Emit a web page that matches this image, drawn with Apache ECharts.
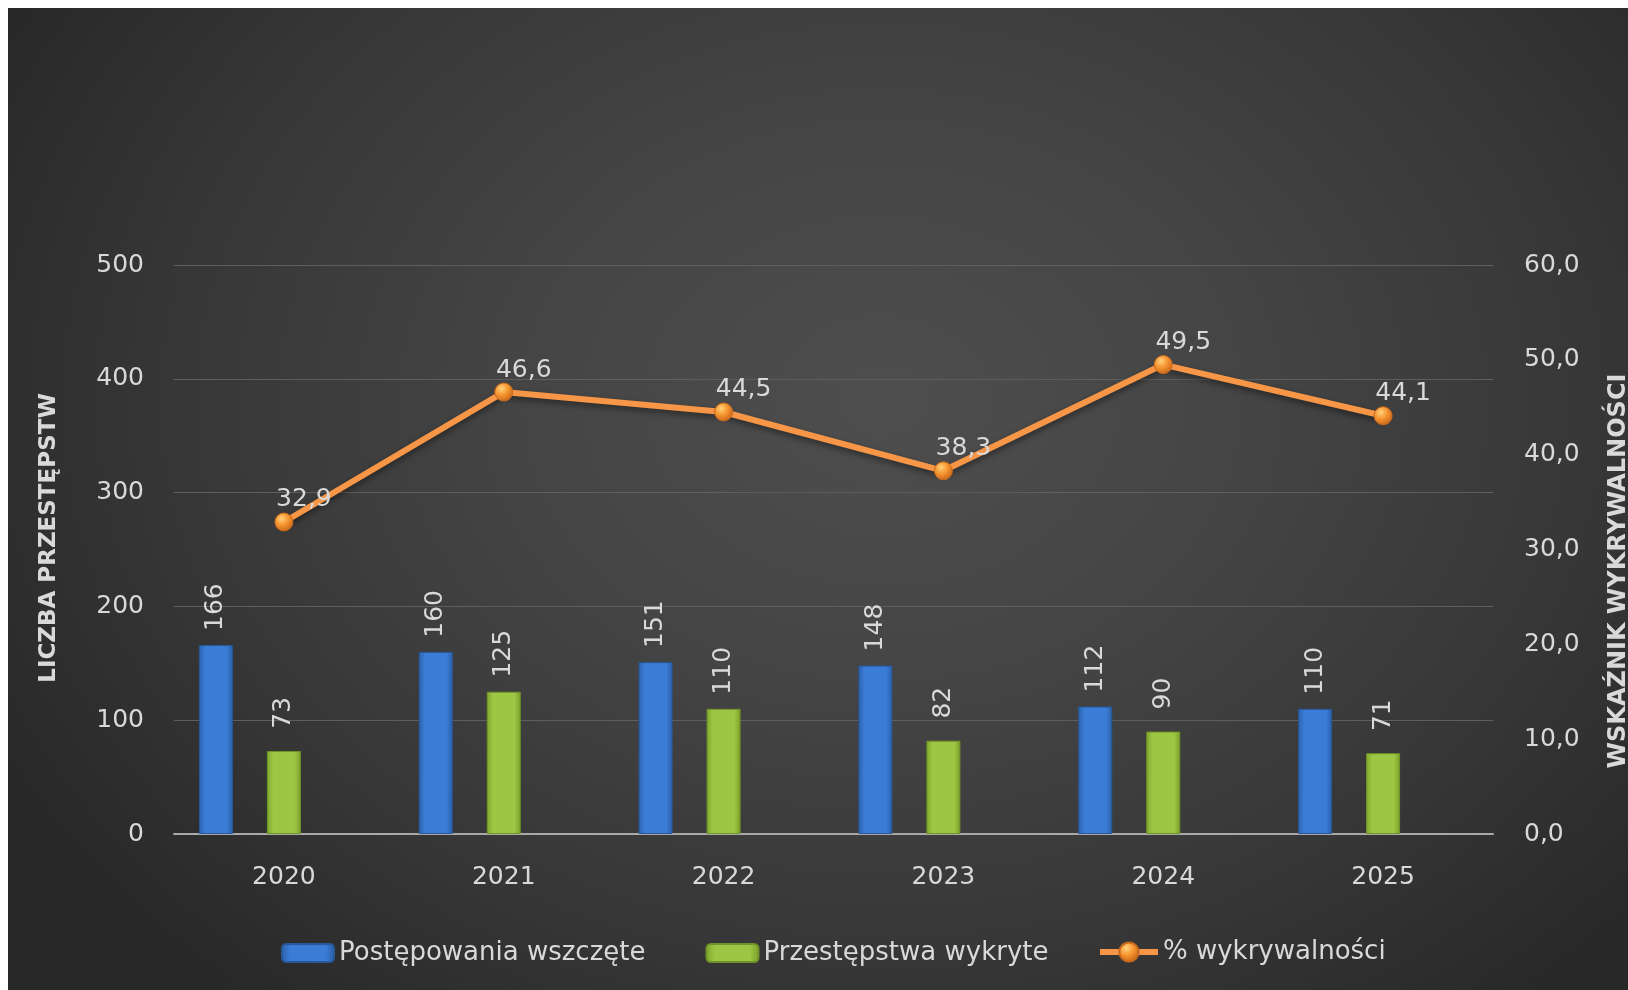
<!DOCTYPE html>
<html>
<head>
<meta charset="utf-8">
<script src="https://cdn.jsdelivr.net/npm/echarts@6/dist/echarts.min.js"></script>
<style>
  html, body { margin: 0; padding: 0; background: #ffffff; }
  #bg { position: absolute; left: 8px; top: 8px; width: 1620px; height: 982px;
        background: radial-gradient(ellipse 62% 80% at 54% 40%, #4e4e4e 0%, #454545 35%, #373737 70%, #282828 100%); }
  #chart { position: absolute; left: 0; top: 0; width: 1628px; height: 990px; }
</style>
</head>
<body>
<div id="bg"></div>
<div id="chart"></div>
<script>
const categories = ['2020', '2021', '2022', '2023', '2024', '2025'];
const initiated = [166, 160, 151, 148, 112, 110];
const detected = [73, 125, 110, 82, 90, 71];
const detectionRate = [32.9, 46.6, 44.5, 38.3, 49.5, 44.1];
const seriesNames = ['Postępowania wszczęte', 'Przestępstwa wykryte', '% wykrywalności'];
const leftTicks = { min: 0, max: 500, interval: 100 };
const rightTicks = { min: 0, max: 60, interval: 10 };
const leftTitle = 'LICZBA PRZESTĘPSTW';
const rightTitle = 'WSKAŹNIK WYKRYWALNOŚCI';

const FONT = 'DejaVu Sans';
const TXT = '#d9d9d9';
const comma1 = v => Number(v).toFixed(1).replace('.', ',');

const chart = echarts.init(document.getElementById('chart'), null, { renderer: 'canvas' });

const blue = new echarts.graphic.LinearGradient(0, 0, 1, 0, [
  { offset: 0, color: '#2c62ad' }, { offset: 0.18, color: '#3b7cd6' },
  { offset: 0.82, color: '#3b7cd6' }, { offset: 1, color: '#2a5ea6' }]);
const green = new echarts.graphic.LinearGradient(0, 0, 1, 0, [
  { offset: 0, color: '#7fa62c' }, { offset: 0.18, color: '#9dc644' },
  { offset: 0.82, color: '#9dc644' }, { offset: 1, color: '#7a9f2a' }]);
const orangeDot = new echarts.graphic.RadialGradient(0.38, 0.32, 0.7, [
  { offset: 0, color: '#ffd27a' }, { offset: 0.5, color: '#f5942f' }, { offset: 1, color: '#c9661a' }]);

const barLabel = {
  show: true, position: 'top', rotate: 90, align: 'center', verticalAlign: 'middle',
  distance: 38, color: TXT, fontFamily: FONT, fontSize: 25
};
const legendText = { color: TXT, fontFamily: FONT, fontSize: 26 };

chart.setOption({
  backgroundColor: 'transparent',
  animation: false,
  textStyle: { fontFamily: FONT },
  grid: { left: 174, right: 135, top: 265, bottom: 156, containLabel: false },
  legend: [
    {
      data: [seriesNames[0], seriesNames[1]],
      left: 281, top: 940, padding: 0,
      itemWidth: 52, itemHeight: 18, itemGap: 60,
      textStyle: legendText
    },
    {
      data: [{ name: seriesNames[2], lineStyle: { width: 6, shadowBlur: 0, shadowOffsetY: 0 } }],
      left: 1097, top: 939, padding: 0,
      itemWidth: 58, itemHeight: 24,
      textStyle: legendText
    }
  ],
  xAxis: {
    type: 'category', data: categories, boundaryGap: true,
    axisLine: { show: true, lineStyle: { color: '#a9a9a9', width: 2 } },
    axisTick: { show: false },
    axisLabel: { color: TXT, fontFamily: FONT, fontSize: 25, margin: 31 }
  },
  yAxis: [
    {
      type: 'value', min: leftTicks.min, max: leftTicks.max, interval: leftTicks.interval,
      axisLine: { show: false }, axisTick: { show: false },
      axisLabel: { color: TXT, fontFamily: FONT, fontSize: 25, margin: 30 },
      splitLine: { lineStyle: { color: '#5e5e5e', width: 1 } }
    },
    {
      type: 'value', min: rightTicks.min, max: rightTicks.max, interval: rightTicks.interval,
      position: 'right',
      axisLine: { show: false }, axisTick: { show: false },
      axisLabel: { color: TXT, fontFamily: FONT, fontSize: 25, margin: 31, formatter: comma1 },
      splitLine: { show: false }
    }
  ],
  graphic: [
    { type: 'text', x: 49, y: 538, rotation: Math.PI / 2,
      style: { text: leftTitle, fill: TXT, font: 'bold 23px "DejaVu Sans"', align: 'center', verticalAlign: 'middle' } },
    { type: 'text', x: 1619, y: 571, rotation: Math.PI / 2,
      style: { text: rightTitle, fill: TXT, font: 'bold 24px "DejaVu Sans"', align: 'center', verticalAlign: 'middle' } }
  ],
  series: [
    {
      name: seriesNames[0], type: 'bar', data: initiated, barWidth: 34, barGap: '100%',
      itemStyle: { color: blue, borderColor: '#275899', borderWidth: 1 },
      label: barLabel
    },
    {
      name: seriesNames[1], type: 'bar', data: detected, barWidth: 34, barGap: '100%',
      itemStyle: { color: green, borderColor: '#6f9427', borderWidth: 1 },
      label: barLabel
    },
    {
      name: '_slot', type: 'bar', data: categories.map(() => null), barWidth: 34, barGap: '100%'
    },
    {
      name: seriesNames[2], type: 'line', yAxisIndex: 1, data: detectionRate,
      symbol: 'circle', symbolSize: 18,
      lineStyle: { color: '#f79646', width: 6, shadowColor: 'rgba(0,0,0,0.45)', shadowBlur: 6, shadowOffsetY: 3 },
      itemStyle: { color: orangeDot, borderColor: '#c86a1e', borderWidth: 1 },
      label: {
        show: true, position: 'top', distance: 2, offset: [20, 2],
        color: TXT, fontFamily: FONT, fontSize: 25, formatter: p => comma1(p.value)
      },
      z: 5
    }
  ]
});
</script>
</body>
</html>
